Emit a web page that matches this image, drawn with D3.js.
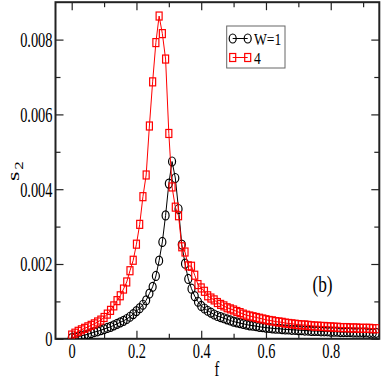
<!DOCTYPE html>
<html><head><meta charset="utf-8">
<script src="https://cdn.jsdelivr.net/npm/d3@7"></script>
<style>body{margin:0;background:#fff}svg{display:block}</style>
</head><body>
<script>
const fValues = [0,0.01,0.02,0.03,0.04,0.05,0.06,0.07,0.08,0.09,
0.1,0.11,0.12,0.13,0.14,0.15,0.16,0.17,0.18,0.19,
0.2,0.21,0.22,0.23,0.24,0.25,0.26,0.27,0.28,0.29,
0.3,0.31,0.32,0.33,0.34,0.35,0.36,0.37,0.38,0.39,
0.4,0.41,0.42,0.43,0.44,0.45,0.46,0.47,0.48,0.49,
0.5,0.51,0.52,0.53,0.54,0.55,0.56,0.57,0.58,0.59,
0.6,0.61,0.62,0.63,0.64,0.65,0.66,0.67,0.68,0.69,
0.7,0.71,0.72,0.73,0.74,0.75,0.76,0.77,0.78,0.79,
0.8,0.81,0.82,0.83,0.84,0.85,0.86,0.87,0.88,0.89,
0.9,0.91,0.92,0.93,0.94];
const seriesW1 = [0.00002,0.00004,0.00006,0.00008,0.0001,0.00012,0.00015,0.00018,0.0002,0.00023,
0.00026,0.00029,0.00032,0.00036,0.0004,0.00044,0.00048,0.00053,0.00059,0.00066,
0.00074,0.00082,0.00091,0.00103,0.00121,0.00139,0.00168,0.00209,0.00259,0.0033,
0.00415,0.00474,0.0043,0.00347,0.00252,0.00201,0.0016,0.00134,0.00114,0.00099,
0.00088,0.00081,0.00075,0.0007,0.00065,0.00061,0.00058,0.00055,0.00052,0.00049,
0.00046,0.00044,0.00042,0.0004,0.00038,0.00036,0.00035,0.00034,0.00032,0.00031,
0.0003,0.00029,0.00028,0.00027,0.00027,0.00026,0.00025,0.00025,0.00024,0.00024,
0.00023,0.00023,0.00022,0.00022,0.00021,0.00021,0.00021,0.0002,0.0002,0.0002,
0.00019,0.00019,0.00019,0.00018,0.00018,0.00018,0.00018,0.00017,0.00017,0.00017,
0.00017,0.00017,0.00016,0.00016,0.00016];
const seriesW4 = [0.0001,0.00015,0.0002,0.00024,0.00028,0.00032,0.00036,0.0004,0.00045,0.0005,
0.00057,0.00066,0.00076,0.00088,0.00102,0.00115,0.00133,0.00152,0.00182,0.0021,
0.00253,0.00306,0.0038,0.00438,0.00569,0.00687,0.00792,0.00863,0.00816,0.00748,
0.00549,0.00406,0.00352,0.00329,0.00246,0.00232,0.00195,0.00194,0.0017,0.00145,
0.00136,0.00127,0.00115,0.00109,0.00104,0.00097,0.00092,0.00088,0.00083,0.0008,
0.00077,0.00073,0.0007,0.00066,0.00063,0.00061,0.00059,0.00057,0.00055,0.00053,
0.00051,0.00049,0.00048,0.00046,0.00045,0.00044,0.00042,0.00041,0.0004,0.00039,
0.00038,0.00037,0.00037,0.00036,0.00035,0.00034,0.00034,0.00033,0.00033,0.00032,
0.00032,0.00031,0.00031,0.0003,0.0003,0.0003,0.00029,0.00029,0.00029,0.00028,
0.00028,0.00028,0.00028,0.00027,0.00027];
const xTicks = [0,0.2,0.4,0.6,0.8];
const xTickLabels = ["0","0.2","0.4","0.6","0.8"];
const xMinor = [0.1,0.3,0.5,0.7,0.9];
const yTicks = [0,0.002,0.004,0.006,0.008];
const yTickLabels = ["0","0.002","0.004","0.006","0.008"];
const yMinor = [0.001,0.003,0.005,0.007];
const legendLabels = ["W=1","4"];

const W = 382, H = 382;
const L = 55.5, R = 379.3, T = 2.2, B = 338.8;
const SX = 0.72; // horizontal squish of glyphs
const FONT = "'Liberation Serif','Times New Roman',serif";

const svg = d3.select("body").append("svg").attr("width", W).attr("height", H);
const x = d3.scaleLinear().domain([-0.05, 0.95]).range([L, R]);
const y = d3.scaleLinear().domain([0, 0.009]).range([B, T]);

const frameColor = "#222";

function fmt(arr, vals){ return d => arr[vals.indexOf(d)]; }
const gx = svg.append("g").attr("transform", `translate(0,${B})`)
  .call(d3.axisBottom(x).tickValues(xTicks).tickSize(-8).tickFormat(fmt(xTickLabels, xTicks)));
svg.append("g").attr("transform", `translate(0,${B})`)
  .call(d3.axisBottom(x).tickValues(xMinor).tickSize(-5).tickFormat(""));
svg.append("g").attr("transform", `translate(0,${T})`)
  .call(d3.axisTop(x).tickValues(xTicks).tickSize(-8).tickFormat(""));
svg.append("g").attr("transform", `translate(0,${T})`)
  .call(d3.axisTop(x).tickValues(xMinor).tickSize(-5).tickFormat(""));
const gy = svg.append("g").attr("transform", `translate(${L},0)`)
  .call(d3.axisLeft(y).tickValues(yTicks).tickSize(-8).tickFormat(fmt(yTickLabels, yTicks)));
svg.append("g").attr("transform", `translate(${L},0)`)
  .call(d3.axisLeft(y).tickValues(yMinor).tickSize(-5).tickFormat(""));
svg.append("g").attr("transform", `translate(${R},0)`)
  .call(d3.axisRight(y).tickValues(yTicks).tickSize(-8).tickFormat(""));
svg.append("g").attr("transform", `translate(${R},0)`)
  .call(d3.axisRight(y).tickValues(yMinor).tickSize(-5).tickFormat(""));

svg.selectAll(".domain").remove();
svg.selectAll(".tick line").attr("stroke", frameColor).attr("stroke-width", 1.2);
svg.selectAll(".tick text").attr("font-family", FONT).attr("font-size", 20).attr("fill", "#000");
gx.selectAll(".tick text").attr("dy", 0).attr("y", 19).attr("transform", `scale(${SX},1)`);
gy.selectAll(".tick text").attr("dy", "0.34em").attr("x", -3 / SX).attr("transform", `scale(${SX},1)`);

svg.append("rect").attr("x", L).attr("y", T).attr("width", R - L).attr("height", B - T)
  .attr("fill", "none").attr("stroke", frameColor).attr("stroke-width", 2);

const dataW1 = fValues.map((f, i) => [f, seriesW1[i]]);
const dataW4 = fValues.map((f, i) => [f, seriesW4[i]]);
const line = d3.line().x(d => x(d[0])).y(d => y(d[1]));
svg.append("clipPath").attr("id", "clip").append("rect")
  .attr("x", L).attr("y", T).attr("width", R - L).attr("height", B - T);
const plot = svg.append("g").attr("clip-path", "url(#clip)");

function drawCircles(g, data){
  g.append("path").datum(data).attr("d", line).attr("fill", "none").attr("stroke", "#000").attr("stroke-width", 1);
  g.selectAll("ellipse.m").data(data).enter().append("ellipse").attr("class","m")
    .attr("cx", d => x(d[0])).attr("cy", d => y(d[1])).attr("rx", 3.5).attr("ry", 4.5)
    .attr("fill", "none").attr("stroke", "#000").attr("stroke-width", 1.2);
}
function drawSquares(g, data){
  g.append("path").datum(data).attr("d", line).attr("fill", "none").attr("stroke", "#ff0000").attr("stroke-width", 1);
  g.selectAll("rect.m").data(data).enter().append("rect").attr("class","m")
    .attr("x", d => x(d[0]) - 3).attr("y", d => y(d[1]) - 4).attr("width", 6).attr("height", 8)
    .attr("fill", "none").attr("stroke", "#ff0000").attr("stroke-width", 1.2);
}
drawCircles(plot.append("g"), dataW1);
drawSquares(plot.append("g"), dataW4);

// legend
const lg = svg.append("g");
lg.append("rect").attr("x", 226.7).attr("y", 26).attr("width", 58.3).attr("height", 42)
  .attr("fill", "#fff").attr("stroke", "#666").attr("stroke-width", 1);
const ly = [38.5, 57.5];
lg.append("line").attr("x1", 232.7).attr("x2", 247.7).attr("y1", ly[0]).attr("y2", ly[0]).attr("stroke", "#000");
[232.7, 247.7].forEach(cx => lg.append("ellipse").attr("cx", cx).attr("cy", ly[0]).attr("rx", 3.5).attr("ry", 4.5)
  .attr("fill", "none").attr("stroke", "#000").attr("stroke-width", 1.2));
lg.append("line").attr("x1", 232.7).attr("x2", 247.7).attr("y1", ly[1]).attr("y2", ly[1]).attr("stroke", "#ff0000");
[232.7, 247.7].forEach(cx => lg.append("rect").attr("x", cx - 3).attr("y", ly[1] - 4).attr("width", 6).attr("height", 8)
  .attr("fill", "none").attr("stroke", "#ff0000").attr("stroke-width", 1.2));
legendLabels.forEach((t, i) => {
  lg.append("text").attr("transform", `translate(254,${ly[i] + 6}) scale(0.8,1)`)
    .attr("font-family", FONT).attr("font-size", 17).text(t);
});

svg.append("text").attr("transform", `translate(322.5,292) scale(${SX},1)`)
  .attr("text-anchor", "middle").attr("font-family", FONT).attr("font-size", 24).text("(b)");

svg.append("text").attr("transform", `translate(217,376) scale(${SX},1)`)
  .attr("text-anchor", "middle").attr("font-family", FONT).attr("font-size", 20).text("f");
const yl = svg.append("text").attr("transform", `translate(19,181) rotate(-90) scale(1,${SX})`)
  .attr("font-family", FONT).attr("font-size", 24);
yl.append("tspan").text("s");
yl.append("tspan").attr("dy", 5).attr("dx", 2).attr("font-size", 17).text("2");
</script>
</body></html>
